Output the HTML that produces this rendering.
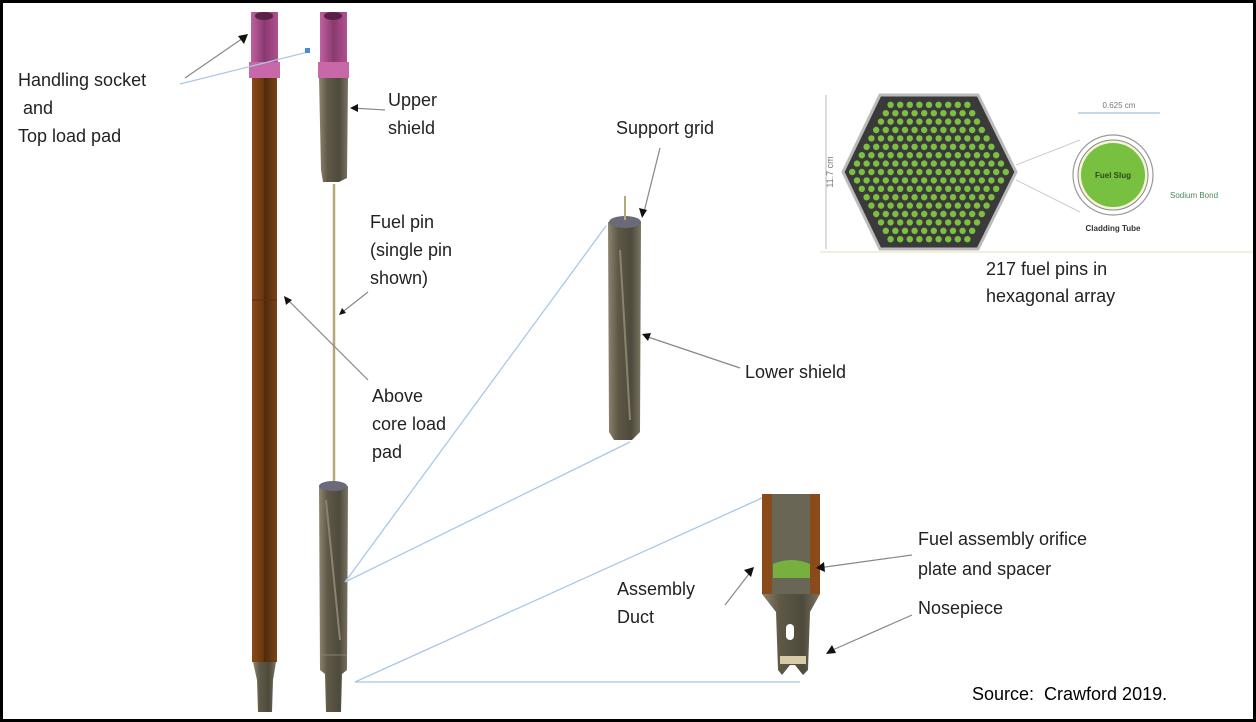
<!DOCTYPE html>
<html><head><meta charset="utf-8"><style>
html,body{margin:0;padding:0;background:#fff}
#w{position:relative;width:1256px;height:722px;overflow:hidden;background:#fff;font-family:"Liberation Sans",Arial,sans-serif}
#fr{position:absolute;left:0;top:0;width:1250px;height:716px;border:3px solid #000}
.t{position:absolute;font-size:18px;color:#222;line-height:28px;white-space:nowrap}
</style></head><body><div id="w">
<svg width="1256" height="722" style="position:absolute;left:0;top:0">
<defs>
<linearGradient id="br" x1="0" x2="1"><stop offset="0" stop-color="#8a4a1a"/><stop offset="0.45" stop-color="#6a3810"/><stop offset="0.5" stop-color="#4e2a0c"/><stop offset="1" stop-color="#7a4418"/></linearGradient>
<linearGradient id="gr" x1="0" x2="1"><stop offset="0" stop-color="#8d8570"/><stop offset="0.3" stop-color="#5e5846"/><stop offset="0.7" stop-color="#4e4a3c"/><stop offset="1" stop-color="#7a7362"/></linearGradient>
<linearGradient id="pk" x1="0" x2="1"><stop offset="0" stop-color="#c060a0"/><stop offset="0.5" stop-color="#8a3a70"/><stop offset="1" stop-color="#b05090"/></linearGradient>
</defs>
<!-- left rod -->
<rect x="252" y="78" width="25" height="584" fill="url(#br)"/>
<line x1="252" y1="300" x2="277" y2="300" stroke="#5a2e0e"/>
<path d="M253 662 L276 662 L273 680 L272 712 L258 712 L257 680 Z" fill="url(#gr)"/>
<rect x="251" y="12" width="27" height="50" fill="url(#pk)"/>
<rect x="249" y="62" width="31" height="16" fill="#c868a8"/>
<ellipse cx="264" cy="16" rx="9" ry="4" fill="#5a2048"/>
<!-- second rod -->
<rect x="320" y="12" width="27" height="50" fill="url(#pk)"/>
<rect x="318" y="62" width="31" height="16" fill="#c868a8"/>
<ellipse cx="333" cy="16" rx="9" ry="4" fill="#5a2048"/>
<path d="M319 78 L348 78 L347 178 L339 182 L323 182 L321 170 Z" fill="url(#gr)"/>
<line x1="334" y1="184" x2="334" y2="482" stroke="#b8a878" stroke-width="2.5"/>
<path d="M319 486 L348 486 L347 670 L342 674 L341 712 L326 712 L325 674 L320 670 Z" fill="url(#gr)"/>
<ellipse cx="333" cy="486" rx="14" ry="5" fill="#6a6a78"/>
<line x1="326" y1="500" x2="340" y2="640" stroke="#8a826e" stroke-width="2"/>
<line x1="321" y1="655" x2="347" y2="655" stroke="#8a826e"/>
<!-- middle lower shield -->
<path d="M608 222 L641 222 L640 432 L632 440 L614 440 L609 432 Z" fill="url(#gr)"/>
<ellipse cx="625" cy="222" rx="16" ry="6" fill="#6a6a78"/>
<line x1="625" y1="196" x2="625" y2="220" stroke="#b8a878" stroke-width="2"/>
<line x1="620" y1="250" x2="630" y2="420" stroke="#8a826e" stroke-width="2"/>
<!-- nosepiece detail -->
<rect x="762" y="494" width="58" height="100" fill="#8a4a1a"/>
<rect x="772" y="494" width="38" height="100" fill="#6a6656"/>
<path d="M762 594 L820 594 L810 612 L808 670 L803 675 L795 665 L790 665 L782 675 L778 670 L776 612 Z" fill="url(#gr)"/>
<path d="M773 564 Q791 556 810 564 L810 578 L773 578 Z" fill="#78b040"/>
<rect x="786" y="624" width="8" height="16" rx="4" fill="#fff"/>
<rect x="780" y="656" width="26" height="8" fill="#d8cca8"/>
<!-- blue lines -->
<g stroke="#a8c8e8" stroke-width="1.3" fill="none">
<line x1="180" y1="84" x2="308" y2="52"/>
<line x1="345" y1="582" x2="606" y2="226"/>
<line x1="345" y1="582" x2="630" y2="442"/>
<line x1="355" y1="682" x2="762" y2="498"/>
<line x1="355" y1="682" x2="800" y2="682"/>
</g>
<rect x="305" y="48" width="5" height="5" fill="#4a8ad8"/>
<!-- gray arrows -->
<g stroke="#888" stroke-width="1.2">
<line x1="185" y1="78" x2="246" y2="36"/>
<line x1="385" y1="110" x2="352" y2="108"/>
<line x1="368" y1="380" x2="286" y2="298"/>
<line x1="368" y1="292" x2="340" y2="314"/>
<line x1="660" y1="148" x2="643" y2="216"/>
<line x1="740" y1="368" x2="645" y2="336"/>
<line x1="725" y1="605" x2="752" y2="570"/>
<line x1="912" y1="555" x2="818" y2="568"/>
<line x1="912" y1="615" x2="828" y2="652"/>
</g>
<g fill="#111">
<polygon points="248,34 238,36 244,44"/>
<polygon points="350,108 358,104 358,112"/>
<polygon points="284,296 286,305 292,300"/>
<polygon points="339,315 342,308 346,313"/>
<polygon points="642,218 639,208 647,210"/>
<polygon points="642,334 651,333 648,341"/>
<polygon points="754,567 744,570 751,577"/>
<polygon points="816,568 824,562 825,572"/>
<polygon points="826,654 832,645 836,653"/>
</g>
<!-- hexagon array -->
<polygon points="843,172 880,95 978,95 1016,172 978,249 880,249" fill="#3a3a3a" stroke="#bbb" stroke-width="3"/>
<g id="pins" fill="#7cc040"></g>
<line x1="826" y1="95" x2="826" y2="249" stroke="#bbb"/>
<text x="0" y="0" transform="translate(833,172) rotate(-90)" font-size="9" fill="#777" text-anchor="middle" font-family="Liberation Sans">11.7 cm</text>
<line x1="1016" y1="165" x2="1080" y2="140" stroke="#ccc"/>
<line x1="1016" y1="180" x2="1080" y2="212" stroke="#ccc"/>
<circle cx="1113" cy="175" r="40" fill="#fff" stroke="#999" stroke-width="1.2"/>
<circle cx="1113" cy="175" r="35" fill="#f4f4d8" stroke="#888"/>
<circle cx="1113" cy="175" r="32" fill="#78c040"/>
<text x="1113" y="178" font-size="8" fill="#2a4a1a" text-anchor="middle" font-weight="bold" font-family="Liberation Sans">Fuel Slug</text>
<line x1="1078" y1="113" x2="1160" y2="113" stroke="#8ab0d0"/>
<text x="1119" y="108" font-size="8" fill="#777" text-anchor="middle" font-family="Liberation Sans">0.625 cm</text>
<text x="1170" y="198" font-size="8" fill="#4a8a5a" font-family="Liberation Sans">Sodium Bond</text>
<text x="1113" y="231" font-size="8" fill="#333" text-anchor="middle" font-weight="bold" font-family="Liberation Sans">Cladding Tube</text>
<line x1="820" y1="252" x2="1256" y2="252" stroke="#f4f0d8" stroke-width="2"/>
</svg>
<div class="t" style="left:18px;top:66px">Handling socket<br>&nbsp;and<br>Top load pad</div>
<div class="t" style="left:388px;top:86px">Upper<br>shield</div>
<div class="t" style="left:370px;top:208px">Fuel pin<br>(single pin<br>shown)</div>
<div class="t" style="left:372px;top:382px">Above<br>core load<br>pad</div>
<div class="t" style="left:616px;top:114px">Support grid</div>
<div class="t" style="left:745px;top:358px">Lower shield</div>
<div class="t" style="left:986px;top:256px;line-height:27px">217 fuel pins in<br>hexagonal array</div>
<div class="t" style="left:918px;top:524px;line-height:30px">Fuel assembly orifice<br>plate and spacer</div>
<div class="t" style="left:617px;top:575px">Assembly<br>Duct</div>
<div class="t" style="left:918px;top:594px">Nosepiece</div>
<div class="t" style="left:972px;top:680px;color:#000">Source:&nbsp; Crawford 2019.</div>
<div id="fr"></div>
</div>
<script>
var g=document.getElementById('pins'),s='',cx=929,cy=172,dx=9.6,dy=8.4;
for(var r=-8;r<=8;r++){var n=17-Math.abs(r);var x0=cx-(n-1)*dx/2;
for(var i=0;i<n;i++){s+='<circle cx="'+(x0+i*dx).toFixed(1)+'" cy="'+(cy+r*dy).toFixed(1)+'" r="3.2"/>';}}
g.innerHTML=s;
</script>
</body></html>
